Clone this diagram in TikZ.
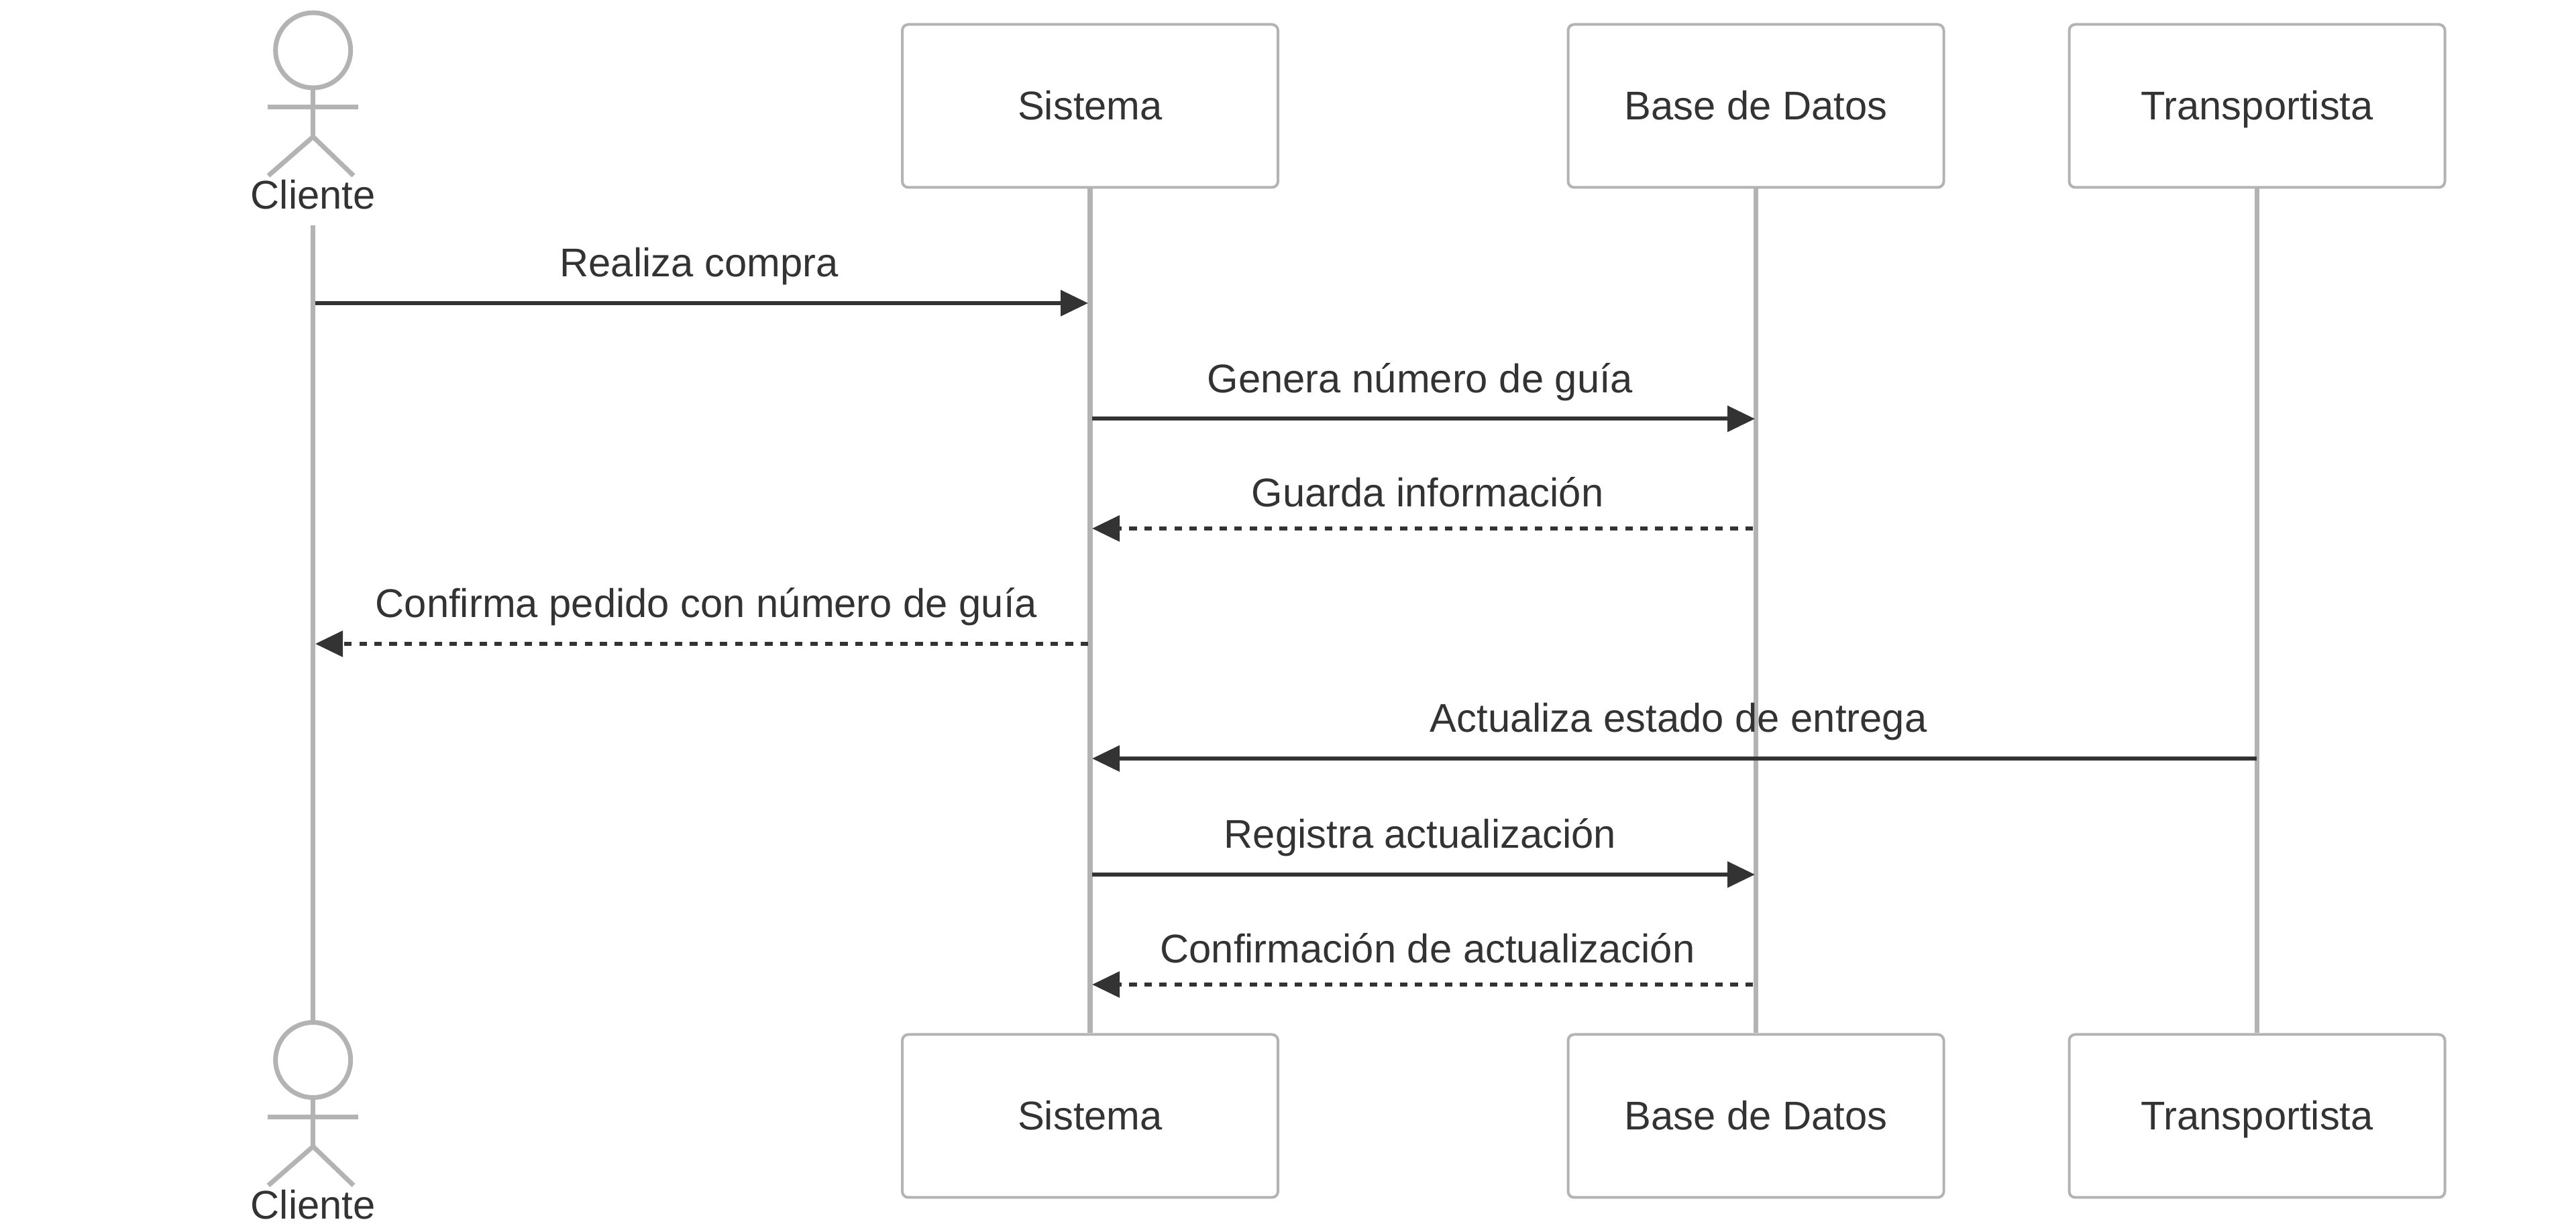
\documentclass[tikz,border=0pt]{standalone}
\usepackage{fontspec}
\setmainfont{Liberation Sans}
\usetikzlibrary{arrows.meta}
\definecolor{linegray}{HTML}{B3B3B3}
\definecolor{inkgray}{HTML}{333333}
\begin{document}
\begin{tikzpicture}[
    actorbox/.style={rectangle, draw=linegray, line width=0.04cm, minimum width=5.6cm, minimum height=2.43cm, rounded corners=0.09cm, text=inkgray, font=\fontsize{17pt}{20pt}\selectfont, text height=0.42cm, text depth=0cm, inner sep=0pt},
    head/.style={circle, draw=linegray, line width=0.07cm, minimum size=1.12cm, inner sep=0pt},
    limb/.style={draw=linegray, line width=0.07cm},
    lifeline/.style={draw=linegray, line width=0.075cm},
    actorname/.style={anchor=base, text=inkgray, font=\fontsize{17pt}{20pt}\selectfont, inner sep=0pt},
    msgtext/.style={anchor=base, text=inkgray, font=\fontsize{17pt}{20pt}\selectfont, inner sep=0pt},
    arrow/.style={-{Triangle[length=0.41cm, width=0.38cm]}, draw=inkgray, color=inkgray, line width=0.06cm},
    reply/.style={arrow, dash pattern=on 0.112cm off 0.112cm}
]
\useasboundingbox (0,0) rectangle (38.4,18.31);

% Top row
\node[head] (clienteHead) at (4.667,17.56) {};
\node[actorname] (clienteName) at (4.667,15.19) {Cliente};
\node[actorbox] (sistema) at (16.25,16.73) {Sistema};
\node[actorbox] (base) at (26.175,16.73) {Base de Datos};
\node[actorbox] (transportista) at (33.645,16.73) {Transportista};

% Bottom row
\node[head] (clienteHeadEnd) at (4.667,2.505) {};
\node[actorname] (clienteNameEnd) at (4.667,0.135) {Cliente};
\node[actorbox] (sistemaEnd) at (16.25,1.67) {Sistema};
\node[actorbox] (baseEnd) at (26.175,1.67) {Base de Datos};
\node[actorbox] (transportistaEnd) at (33.645,1.67) {Transportista};

% Stick figures
\coordinate (hip) at (4.667,16.27);
\coordinate (armL) at (3.99,16.71);
\coordinate (armR) at (5.34,16.71);
\coordinate (footL) at (4.0,15.69);
\coordinate (footR) at (5.27,15.69);
\draw[limb] (clienteHead) -- (hip);
\draw[limb] (armL) -- (armR);
\draw[limb] (footL) -- (hip) -- (footR);

\coordinate (hipEnd) at (4.667,1.215);
\coordinate (armLEnd) at (3.99,1.655);
\coordinate (armREnd) at (5.34,1.655);
\coordinate (footLEnd) at (4.0,0.635);
\coordinate (footREnd) at (5.27,0.635);
\draw[limb] (clienteHeadEnd) -- (hipEnd);
\draw[limb] (armLEnd) -- (armREnd);
\draw[limb] (footLEnd) -- (hipEnd) -- (footREnd);

% Lifelines
\coordinate (clienteStart) at (4.667,14.95);
\draw[lifeline] (clienteStart) -- (clienteHeadEnd);
\draw[lifeline] (sistema) -- (sistemaEnd);
\draw[lifeline] (base) -- (baseEnd);
\draw[lifeline] (transportista) -- (transportistaEnd);

% Message ends
\coordinate (c1) at (4.70,13.79);
\coordinate (s1) at (16.22,13.79);
\coordinate (s2) at (16.28,12.065);
\coordinate (b2) at (26.16,12.065);
\coordinate (b3) at (26.13,10.43);
\coordinate (s3) at (16.28,10.43);
\coordinate (s4) at (16.22,8.71);
\coordinate (c4) at (4.70,8.71);
\coordinate (t5) at (33.64,7.00);
\coordinate (s5) at (16.28,7.00);
\coordinate (s6) at (16.28,5.27);
\coordinate (b6) at (26.16,5.27);
\coordinate (b7) at (26.13,3.63);
\coordinate (s7) at (16.28,3.63);

% Messages
\draw[arrow] (c1) -- (s1);
\draw[arrow] (s2) -- (b2);
\draw[reply] (b3) -- (s3);
\draw[reply] (s4) -- (c4);
\draw[arrow] (t5) -- (s5);
\draw[arrow] (s6) -- (b6);
\draw[reply] (b7) -- (s7);

% Labels
\node[msgtext] (m1) at (10.42,14.18) {Realiza compra};
\node[msgtext] (m2) at (21.17,12.455) {Genera número de guía};
\node[msgtext] (m3) at (21.28,10.75) {Guarda información};
\node[msgtext] (m4) at (10.53,9.10) {Confirma pedido con número de guía};
\node[msgtext] (m5) at (25.02,7.39) {Actualiza estado de entrega};
\node[msgtext] (m6) at (21.17,5.66) {Registra actualización};
\node[msgtext] (m7) at (21.28,3.95) {Confirmación de actualización};

\end{tikzpicture}
\end{document}
